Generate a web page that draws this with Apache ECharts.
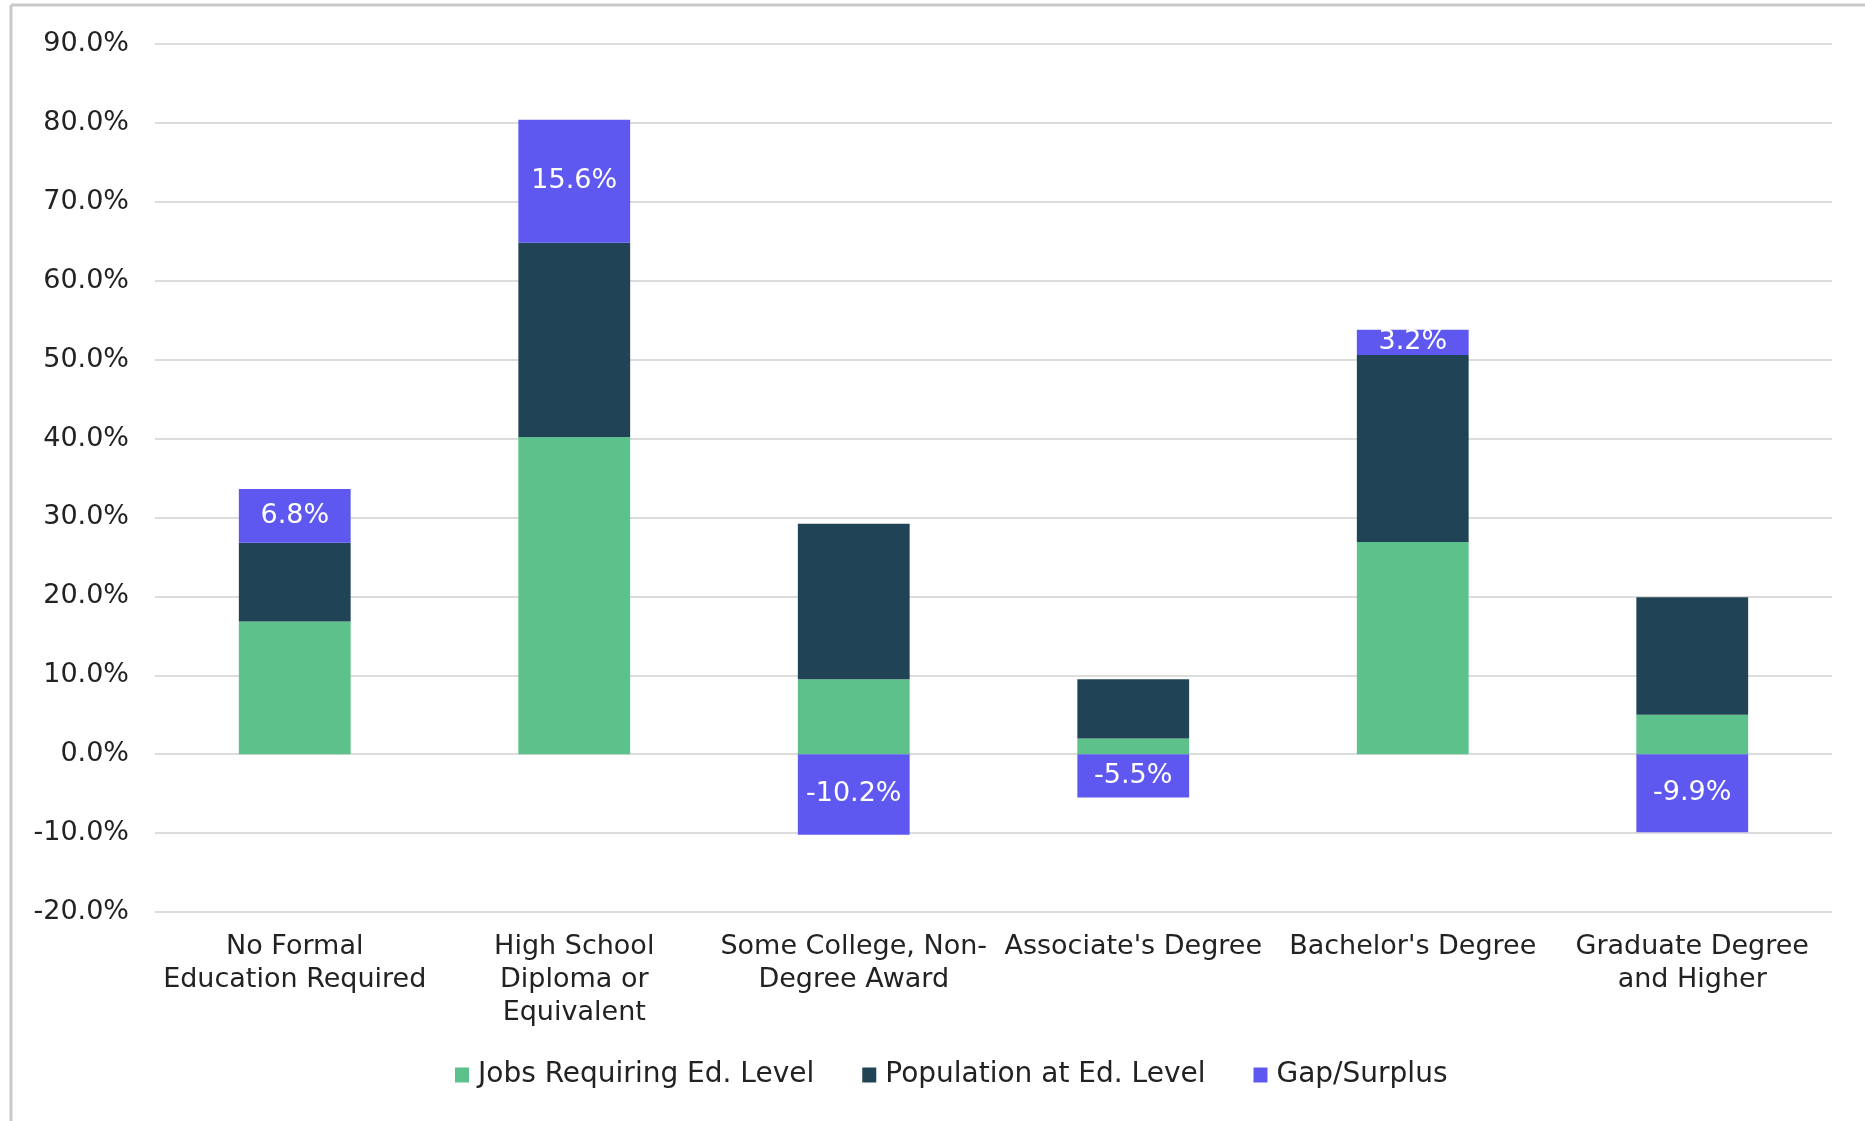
<!DOCTYPE html>
<html>
<head>
<meta charset="utf-8">
<title>Jobs vs. Population by Education Level</title>
<script src="https://cdn.jsdelivr.net/npm/echarts@6/dist/echarts.min.js"></script>
<style>
  html, body { margin: 0; padding: 0; background: #ffffff; }
  #chart { width: 1865px; height: 1121px; }
</style>
</head>
<body>
<div id="chart"></div>
<script>
// Education levels (line breaks mark where the axis labels wrap)
const categories = [
  'No Formal\nEducation Required',
  'High School\nDiploma or\nEquivalent',
  'Some College, Non-\nDegree Award',
  "Associate's Degree",
  "Bachelor's Degree",
  'Graduate Degree\nand Higher'
];

// Share of jobs requiring each education level (%)
const jobsRequiring = [16.8, 40.2, 9.5, 2.0, 26.9, 5.0];
// Share of population at each education level (%)
const populationAtLevel = [10.0, 24.6, 19.7, 7.5, 23.7, 14.9];
// Gap / surplus (%)
const gapSurplus = [6.8, 15.6, -10.2, -5.5, 3.2, -9.9];

// Value axis ticks (%)
const yMin = -20;
const yMax = 90;
const yStep = 10;

const seriesNames = ['Jobs Requiring Ed. Level', 'Population at Ed. Level', 'Gap/Surplus'];
const seriesColors = ['#5DC18C', '#204355', '#5E58F1'];

const FONT = 'DejaVu Sans';
const chart = echarts.init(document.getElementById('chart'), null, { renderer: 'canvas' });

chart.setOption({
  animation: false,
  backgroundColor: '#ffffff',
  textStyle: { fontFamily: FONT },
  grid: { left: 155, right: 33, top: 44, bottom: 209, containLabel: false },
  // frame edges of the chart box
  graphic: [
    { type: 'line', shape: { x1: 11, y1: 5, x2: 1865, y2: 5 },
      style: { stroke: '#c9c9c9', lineWidth: 3 }, silent: true },
    { type: 'line', shape: { x1: 11, y1: 5, x2: 11, y2: 1121 },
      style: { stroke: '#c9c9c9', lineWidth: 3 }, silent: true }
  ],
  legend: {
    data: seriesNames,
    top: 1056,
    left: 450,
    icon: 'rect',
    itemWidth: 14,
    itemHeight: 15,
    itemGap: 48,
    textStyle: { fontFamily: FONT, fontSize: 28, color: '#222222', padding: [0, 0, 0, 4] }
  },
  xAxis: {
    type: 'category',
    data: categories,
    axisLine: { show: false },
    axisTick: { show: false },
    axisLabel: {
      interval: 0,
      margin: 18,
      fontFamily: FONT,
      fontSize: 27,
      lineHeight: 33,
      color: '#222222',
      align: 'center'
    }
  },
  yAxis: {
    type: 'value',
    min: yMin,
    max: yMax,
    interval: yStep,
    axisLine: { show: false },
    axisTick: { show: false },
    splitLine: { show: true, lineStyle: { color: '#dcdcdc', width: 2 } },
    axisLabel: {
      margin: 26,
      fontFamily: FONT,
      fontSize: 27,
      color: '#222222',
      formatter: v => v.toFixed(1) + '%'
    }
  },
  series: [
    {
      name: seriesNames[0],
      type: 'bar',
      stack: 'total',
      barWidth: '40%',
      itemStyle: { color: seriesColors[0] },
      data: jobsRequiring
    },
    {
      name: seriesNames[1],
      type: 'bar',
      stack: 'total',
      barWidth: '40%',
      itemStyle: { color: seriesColors[1] },
      data: populationAtLevel
    },
    {
      name: seriesNames[2],
      type: 'bar',
      stack: 'total',
      barWidth: '40%',
      itemStyle: { color: seriesColors[2] },
      label: {
        show: true,
        position: 'inside',
        fontFamily: FONT,
        fontSize: 27,
        color: '#ffffff',
        formatter: p => p.value.toFixed(1) + '%'
      },
      data: gapSurplus
    }
  ]
});
</script>
</body>
</html>
